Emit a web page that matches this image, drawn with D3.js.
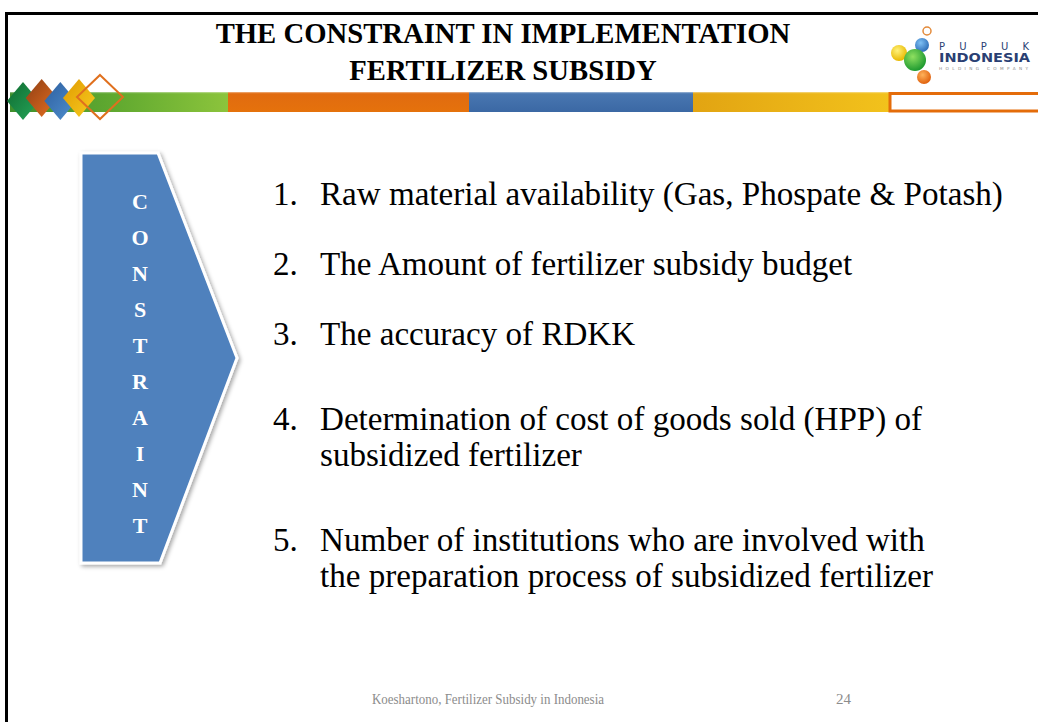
<!DOCTYPE html>
<html>
<head>
<meta charset="utf-8">
<script src="https://cdn.jsdelivr.net/npm/d3@7"></script>
<style>
  html, body { margin: 0; padding: 0; background: #fff; }
  svg { display: block; }
</style>
</head>
<body>
<div id="slide"></div>
<script>
// slide content
var titleLines = ["THE CONSTRAINT IN IMPLEMENTATION", "FERTILIZER SUBSIDY"];
var arrowLetters = ["C", "O", "N", "S", "T", "R", "A", "I", "N", "T"];
var itemNumbers = ["1.", "2.", "3.", "4.", "5."];
var itemLines = [
  ["Raw material availability (Gas, Phospate & Potash)"],
  ["The Amount of fertilizer subsidy budget"],
  ["The accuracy of RDKK"],
  ["Determination of cost of goods sold (HPP) of", "subsidized fertilizer"],
  ["Number of institutions who are involved with", "the preparation process of subsidized fertilizer"]
];
var footerText = "Koeshartono, Fertilizer Subsidy in Indonesia";
var pageNumber = "24";
var barColors = ["green", "orange", "blue", "yellow"];
var logoWords = ["P U P U K", "INDONESIA", "HOLDING COMPANY"];

var width = 1038, height = 722;
var serif = "'Liberation Serif', 'DejaVu Serif', serif";

var svg = d3.select("#slide").append("svg")
  .attr("width", width)
  .attr("height", height);

var defs = svg.append("defs");

function linGrad(id, stops, x2, y2) {
  var g = defs.append("linearGradient").attr("id", id)
    .attr("x1", 0).attr("y1", 0).attr("x2", x2).attr("y2", y2);
  stops.forEach(function(s) {
    g.append("stop").attr("offset", s[0]).attr("stop-color", s[1]);
  });
}
function radGrad(id, inner, outer) {
  var g = defs.append("radialGradient").attr("id", id)
    .attr("cx", "40%").attr("cy", "35%").attr("r", "65%");
  g.append("stop").attr("offset", 0).attr("stop-color", inner);
  g.append("stop").attr("offset", 1).attr("stop-color", outer);
}

linGrad("g-green", [[0, "#3f8f2c"], [0.5, "#62aa30"], [1, "#8cc43c"]], 1, 0);
linGrad("g-orange", [[0, "#e06a10"], [1, "#e5720c"]], 0, 1);
linGrad("g-blue", [[0, "#4a78b2"], [1, "#3b68a4"]], 0, 1);
linGrad("g-yellow", [[0, "#e2a412"], [1, "#f2c21c"]], 1, 0);
linGrad("d-green", [[0, "#0f6b30"], [1, "#26a65a"]], 1, 1);
linGrad("d-orange", [[0, "#8e3e14"], [1, "#e67020"]], 1, 1);
linGrad("d-blue", [[0, "#2d5f9f"], [1, "#5090d0"]], 1, 1);
linGrad("d-yellow", [[0, "#e09a00"], [1, "#f8cc20"]], 1, 1);
radGrad("c-yellow", "#fff27a", "#e8b800");
radGrad("c-green", "#8fe060", "#1e9a30");
radGrad("c-blue", "#7ec0f4", "#2f6fb8");
radGrad("c-orange", "#ffb25a", "#e0620e");

var shadow = defs.append("filter").attr("id", "shadow")
  .attr("x", "-20%").attr("y", "-10%").attr("width", "150%").attr("height", "130%");
shadow.append("feDropShadow").attr("dx", 2).attr("dy", 2)
  .attr("stdDeviation", 2).attr("flood-color", "#000").attr("flood-opacity", 0.35);

// slide frame (left + top edge)
svg.append("path")
  .attr("d", "M6.5,722 V13.5 H1038")
  .attr("fill", "none")
  .attr("stroke", "#000")
  .attr("stroke-width", 3);

// fit a text to a target width by adjusting font size
function fitSize(text, family, weight, targetWidth) {
  var t = svg.append("text").attr("font-family", family).attr("font-weight", weight)
    .attr("font-size", 100).text(text);
  var w = t.node().getComputedTextLength();
  t.remove();
  return 100 * targetWidth / w;
}

// title
var titleSize = Math.min(fitSize(titleLines[0], serif, "bold", 575), 30);
svg.append("g").selectAll("text")
  .data(titleLines)
  .enter().append("text")
  .attr("x", 503)
  .attr("y", function(d, i) { return 43 + i * 37; })
  .attr("text-anchor", "middle")
  .attr("font-family", serif)
  .attr("font-weight", "bold")
  .attr("font-size", titleSize)
  .attr("fill", "#000")
  .text(function(d) { return d; });

// coloured band
var barX = d3.scaleOrdinal().domain(barColors).range([10, 228, 469, 693]);
var barEnd = d3.scaleOrdinal().domain(barColors).range([228, 469, 693, 889]);
svg.append("g").selectAll("rect")
  .data(barColors)
  .enter().append("rect")
  .attr("x", function(d) { return barX(d); })
  .attr("y", 92)
  .attr("width", function(d) { return barEnd(d) - barX(d); })
  .attr("height", 20)
  .attr("fill", function(d) { return "url(#g-" + d + ")"; });
svg.append("rect")
  .attr("x", 10).attr("y", 92).attr("width", 879).attr("height", 1.2)
  .attr("fill", "#fff").attr("opacity", 0.35);
svg.append("rect")
  .attr("x", 890).attr("y", 93.5).attr("width", 160).attr("height", 17.5)
  .attr("fill", "#fff")
  .attr("stroke", "#e46c0a")
  .attr("stroke-width", 3);

// diamonds at the left of the band
var diamondColors = ["green", "orange", "blue", "yellow"];
var diamondX = d3.scalePoint().domain(diamondColors).range([23, 79]);
function diamond(cx, cy, rx, ry) {
  return "M" + cx + "," + (cy - ry) + " L" + (cx + rx) + "," + cy +
    " L" + cx + "," + (cy + ry) + " L" + (cx - rx) + "," + cy + "Z";
}
svg.append("g").selectAll("path")
  .data(diamondColors)
  .enter().append("path")
  .attr("d", function(d, i) { return diamond(diamondX(d), i % 2 ? 98 : 101, 16, 19); })
  .attr("fill", function(d) { return "url(#d-" + d + ")"; });
svg.append("path")
  .attr("d", diamond(100, 97, 23, 22))
  .attr("fill", "none")
  .attr("stroke", "#e0701e")
  .attr("stroke-width", 2);

// logo
var logoDots = [
  { x: 927, y: 31, r: 4, fill: "#fff", stroke: "#e38a3a" },
  { x: 899, y: 53, r: 8, fill: "url(#c-yellow)" },
  { x: 922, y: 45, r: 7, fill: "url(#c-blue)" },
  { x: 924, y: 77, r: 7, fill: "url(#c-orange)" },
  { x: 915, y: 60, r: 11, fill: "url(#c-green)" }
];
svg.append("g").selectAll("circle")
  .data(logoDots)
  .enter().append("circle")
  .attr("cx", function(d) { return d.x; })
  .attr("cy", function(d) { return d.y; })
  .attr("r", function(d) { return d.r; })
  .attr("fill", function(d) { return d.fill; })
  .attr("stroke", function(d) { return d.stroke || "none"; })
  .attr("stroke-width", 1.5);
var logoText = svg.append("g").attr("font-family", "'DejaVu Sans', sans-serif");
logoText.append("text")
  .attr("x", 939).attr("y", 50)
  .attr("font-size", 10).attr("fill", "#2a3f73")
  .attr("textLength", 90).attr("lengthAdjust", "spacing")
  .text(logoWords[0]);
logoText.append("text")
  .attr("x", 939).attr("y", 62)
  .attr("font-size", 11.5).attr("font-weight", "bold").attr("fill", "#2a3f73")
  .attr("textLength", 91).attr("lengthAdjust", "spacingAndGlyphs")
  .text(logoWords[1]);
logoText.append("text")
  .attr("x", 939).attr("y", 70)
  .attr("font-size", 4.2).attr("fill", "#888")
  .attr("textLength", 89).attr("lengthAdjust", "spacing")
  .text(logoWords[2]);

// the CONSTRAINT arrow
var arrow = [[81, 153], [158, 153], [237, 358], [160, 563], [81, 563]];
svg.append("path")
  .attr("d", d3.line()(arrow) + "Z")
  .attr("fill", "#4f81bd")
  .attr("stroke", "#fff")
  .attr("stroke-width", 3)
  .attr("stroke-linejoin", "miter")
  .attr("filter", "url(#shadow)");

var letterY = d3.scalePoint()
  .domain(d3.range(arrowLetters.length))
  .range([209, 533]);
svg.append("g").selectAll("text")
  .data(arrowLetters)
  .enter().append("text")
  .attr("x", 140)
  .attr("y", function(d, i) { return letterY(i); })
  .attr("text-anchor", "middle")
  .attr("font-family", serif)
  .attr("font-weight", "bold")
  .attr("font-size", 22)
  .attr("fill", "#fff")
  .text(function(d) { return d; });

// numbered list
var bodySize = fitSize(itemLines[0][0], serif, "normal", 683);
var itemY = d3.scaleOrdinal().domain(itemNumbers).range([205, 275, 345, 430, 551]);
var lineGap = 36;
var items = svg.append("g")
  .attr("font-family", serif)
  .attr("font-size", bodySize)
  .attr("fill", "#000")
  .selectAll("g")
  .data(itemNumbers)
  .enter().append("g");
items.append("text")
  .attr("x", 273)
  .attr("y", function(d) { return itemY(d); })
  .text(function(d) { return d; });
items.each(function(d, i) {
  d3.select(this).selectAll("text.line")
    .data(itemLines[i])
    .enter().append("text")
    .attr("class", "line")
    .attr("x", 320)
    .attr("y", function(t, j) { return itemY(d) + j * lineGap; })
    .text(function(t) { return t; });
});

// footer
svg.append("text")
  .attr("x", 372).attr("y", 704)
  .attr("font-family", serif)
  .attr("font-size", 15)
  .attr("fill", "#8c8c8c")
  .attr("textLength", 232)
  .attr("lengthAdjust", "spacingAndGlyphs")
  .text(footerText);
svg.append("text")
  .attr("x", 851).attr("y", 704)
  .attr("text-anchor", "end")
  .attr("font-family", serif)
  .attr("font-size", 15)
  .attr("fill", "#8c8c8c")
  .text(pageNumber);
</script>
</body>
</html>
